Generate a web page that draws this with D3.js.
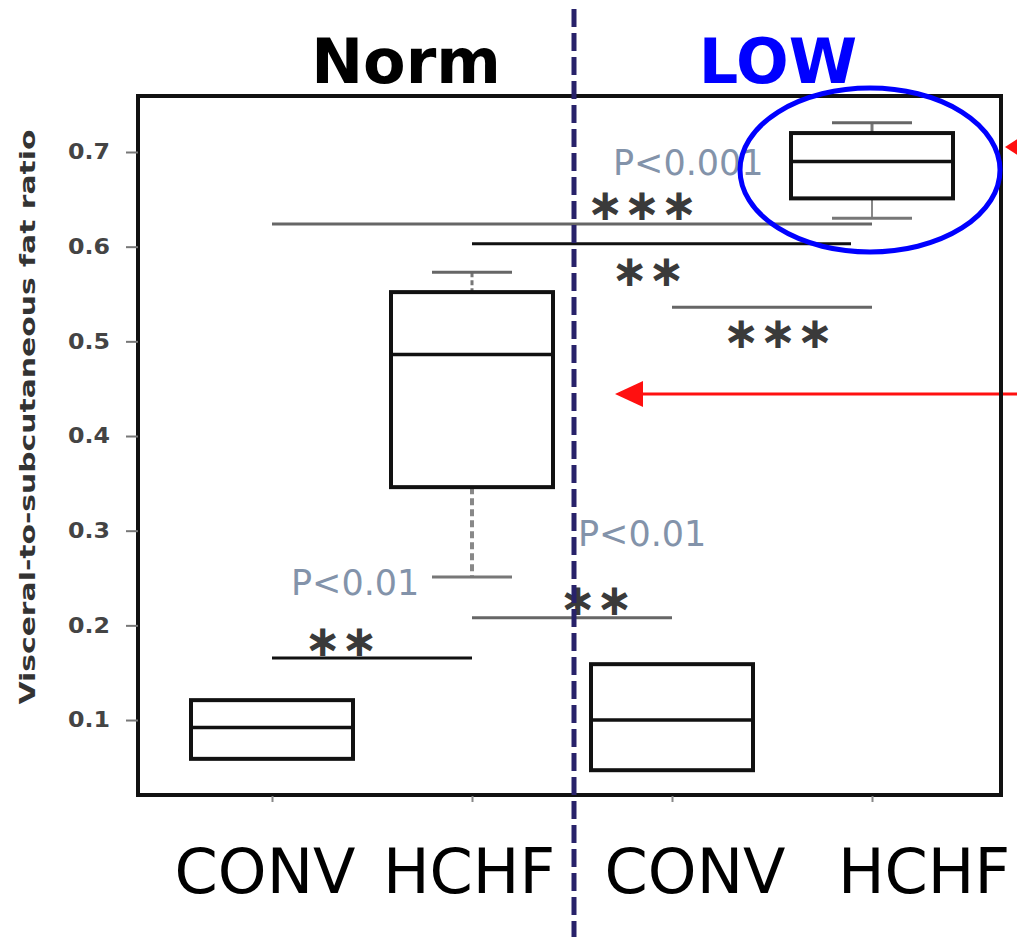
<!DOCTYPE html>
<html>
<head>
<meta charset="utf-8">
<script src="https://cdn.jsdelivr.net/npm/d3@7"></script>
<style>
  html, body { margin: 0; padding: 0; background: #fff; }
  svg { display: block; }
</style>
</head>
<body>
<svg id="chart" width="1017" height="937"></svg>
<script>
// ---- data ----
const categories = ["CONV", "HCHF", "CONV", "HCHF"];
const groupTitles = ["Norm", "LOW"];
const whiskerLow  = [0.059, 0.251, 0.047, 0.630];
const q1          = [0.059, 0.346, 0.047, 0.651];
const medians     = [0.092, 0.486, 0.100, 0.690];
const q3          = [0.121, 0.552, 0.159, 0.720];
const whiskerHigh = [0.121, 0.573, 0.159, 0.731];
const yTicks = [0.1, 0.2, 0.3, 0.4, 0.5, 0.6, 0.7];
const yTitle = "Visceral-to-subcutaneous fat ratio";

// significance brackets: start/end in category index units, height in ratio units
const sigFrom  = [0, 1, 0, 1, 2];
const sigTo    = [1, 2, 3, 2.895, 3];
const sigLevel = [0.1655, 0.208, 0.624, 0.603, 0.536];
const sigStars = ["**", "**", "***", "**", "***"];
const starAtX  = [0.345, 1.62, 1.85, 1.88, 2.53];
const starAtY  = [0.184, 0.227, 0.645, 0.575, 0.509];
const sigDark  = [true, false, false, true, false];

const pLabels = ["P<0.01", "P<0.01", "P<0.001"];
const pAtX    = [0.095, 1.53, 1.705];
const pAtY    = [0.232, 0.284, 0.676];

// ---- layout ----
const svg = d3.select("#chart");
const frame = { left: 138, top: 96, right: 1001, bottom: 795 };
const boxW = 162;
const FONT = "DejaVu Sans, Verdana, sans-serif";

const y = d3.scaleLinear().domain([0, 0.7]).range([814.7, 152]);
const xi = d3.scaleLinear().domain([0, 3]).range([272, 872]);
const x = d3.scalePoint().domain(d3.range(categories.length)).range([272, 872]);

// red arrows (behind frame)
const red = "#ff1010";
svg.append("line").attr("x1", 640).attr("x2", 1017)
  .attr("y1", 394).attr("y2", 394)
  .attr("stroke", red).attr("stroke-width", 3);
svg.append("path").attr("d", "M615,394 L643,381 L643,407 Z").attr("fill", red);
svg.append("path").attr("d", "M1005,147 L1027,133 L1027,161 Z").attr("fill", red);

// plot frame
svg.append("rect")
  .attr("x", frame.left).attr("y", frame.top)
  .attr("width", frame.right - frame.left).attr("height", frame.bottom - frame.top)
  .attr("fill", "none").attr("stroke", "#111").attr("stroke-width", 4);

// y axis
const yAxis = d3.axisLeft(y).tickValues(yTicks).tickSize(12).tickPadding(16)
  .tickFormat(d3.format(".1f"));
const gy = svg.append("g").attr("transform", `translate(${frame.left},0)`).call(yAxis);
gy.select(".domain").remove();
gy.selectAll(".tick line").attr("stroke", "#777").attr("stroke-width", 2);
gy.selectAll(".tick text")
  .attr("font-family", FONT).attr("font-weight", "bold")
  .attr("font-size", 21).attr("fill", "#444")
  .attr("textLength", 42).attr("lengthAdjust", "spacingAndGlyphs");

// x axis ticks
const xAxis = d3.axisBottom(x).tickSize(6).tickFormat("");
const gx = svg.append("g").attr("transform", `translate(0,${frame.bottom + 1})`).call(xAxis);
gx.select(".domain").remove();
gx.selectAll(".tick line").attr("stroke", "#888").attr("stroke-width", 2);

// y title
svg.append("text")
  .attr("transform", `translate(35,417) rotate(-90)`)
  .attr("text-anchor", "middle")
  .attr("font-family", FONT).attr("font-weight", "bold").attr("font-size", 21)
  .attr("textLength", 575).attr("lengthAdjust", "spacingAndGlyphs")
  .attr("fill", "#333")
  .text(yTitle);

// boxes
const boxes = svg.append("g").selectAll("g").data(d3.range(categories.length)).join("g");
boxes.each(function(i) {
  const g = d3.select(this);
  const cx = x(i);
  const capW = 80;
  if (whiskerHigh[i] > q3[i]) {
    g.append("line").attr("x1", cx).attr("x2", cx)
      .attr("y1", y(whiskerHigh[i])).attr("y2", y(q3[i]))
      .attr("stroke", "#777").attr("stroke-width", 3)
      .attr("stroke-dasharray", i === 1 ? "5,3" : null);
    g.append("line").attr("x1", cx - capW / 2).attr("x2", cx + capW / 2)
      .attr("y1", y(whiskerHigh[i])).attr("y2", y(whiskerHigh[i]))
      .attr("stroke", "#666").attr("stroke-width", 3);
  }
  if (whiskerLow[i] < q1[i]) {
    g.append("line").attr("x1", cx).attr("x2", cx)
      .attr("y1", y(q1[i])).attr("y2", y(whiskerLow[i]))
      .attr("stroke", "#888").attr("stroke-width", i === 1 ? 4 : 2)
      .attr("stroke-dasharray", i === 1 ? "7,4" : null);
    g.append("line").attr("x1", cx - capW / 2).attr("x2", cx + capW / 2)
      .attr("y1", y(whiskerLow[i])).attr("y2", y(whiskerLow[i]))
      .attr("stroke", "#777").attr("stroke-width", 3);
  }
  g.append("rect")
    .attr("x", cx - boxW / 2).attr("y", y(q3[i]))
    .attr("width", boxW).attr("height", y(q1[i]) - y(q3[i]))
    .attr("fill", "#fff").attr("stroke", "#111").attr("stroke-width", 4);
  g.append("line")
    .attr("x1", cx - boxW / 2).attr("x2", cx + boxW / 2)
    .attr("y1", y(medians[i])).attr("y2", y(medians[i]))
    .attr("stroke", "#111").attr("stroke-width", 3.5);
});

// significance brackets
const sig = svg.append("g");
sigLevel.forEach((lv, k) => {
  sig.append("line")
    .attr("x1", xi(sigFrom[k])).attr("x2", xi(sigTo[k]))
    .attr("y1", y(lv)).attr("y2", y(lv))
    .attr("stroke", sigDark[k] ? "#111" : "#666").attr("stroke-width", 3);
  sig.append("text")
    .attr("x", xi(starAtX[k])).attr("y", y(starAtY[k]))
    .attr("text-anchor", "middle").attr("dominant-baseline", "central")
    .attr("font-family", FONT).attr("font-weight", "bold").attr("font-size", 44)
    .attr("fill", "#3a3a3a")
    .text(sigStars[k].replace(/\*/g, "\u2217"));
});

// p-value labels
pLabels.forEach((t, k) => {
  svg.append("text")
    .attr("x", xi(pAtX[k])).attr("y", y(pAtY[k]))
    .attr("font-family", FONT).attr("font-size", 35)
    .attr("fill", "#8393aa")
    .text(t);
});

// highlight ellipse
svg.append("ellipse")
  .attr("cx", 870).attr("cy", 170).attr("rx", 130).attr("ry", 82)
  .attr("fill", "none").attr("stroke", "#0000ff").attr("stroke-width", 5);

// divider between groups
svg.append("line")
  .attr("x1", 574).attr("x2", 574).attr("y1", 9).attr("y2", 937)
  .attr("stroke", "#28226a").attr("stroke-width", 5)
  .attr("stroke-dasharray", "18,6");

// group titles
const titleX = [406, 778];
const titleColor = ["#000", "#0000ff"];
groupTitles.forEach((t, k) => {
  svg.append("text")
    .attr("x", titleX[k]).attr("y", 83)
    .attr("text-anchor", "middle")
    .attr("font-family", FONT).attr("font-weight", "bold").attr("font-size", 62)
    .attr("fill", titleColor[k])
    .text(t);
});

// category labels
const labelShift = [-7, -3, 23, 52];
categories.forEach((c, i) => {
  svg.append("text")
    .attr("x", x(i) + labelShift[i]).attr("y", 893)
    .attr("text-anchor", "middle")
    .attr("font-family", FONT).attr("font-size", 62)
    .attr("fill", "#000")
    .text(c);
});
</script>
</body>
</html>
